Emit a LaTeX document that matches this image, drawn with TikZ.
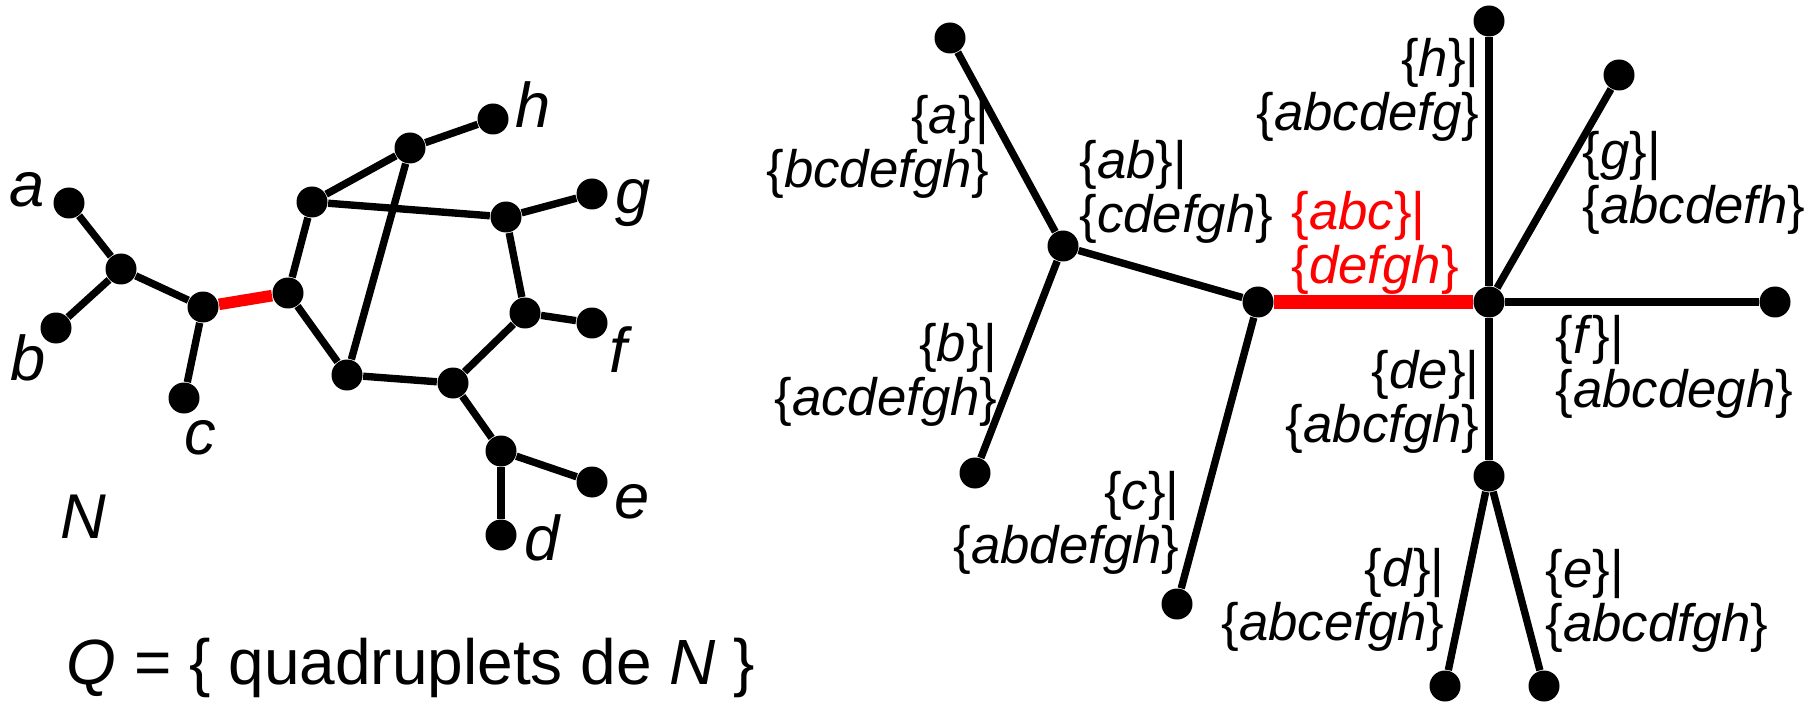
\documentclass[tikz,border=0pt]{standalone}
\usepackage{fontspec}
\setmainfont{Liberation Sans}
\newcommand{\cut}[2]{\{\textit{#1}\}|\\\{\textit{#2}\}}

\begin{document}
\begin{tikzpicture}[x=1cm,y=1cm,
  dot/.style={circle,fill,inner sep=0pt,minimum size=0.31cm},
  tree/.style={line width=2.1pt},
  leaf/.style={font=\fontsize{18}{18}\selectfont\itshape,inner sep=0pt},
  cutW/.style={font=\fontsize{15}{15.2}\selectfont,inner sep=0pt,align=right,anchor=east},
  cutE/.style={font=\fontsize{15}{15.2}\selectfont,inner sep=0pt,align=left,anchor=west}]
\useasboundingbox (0,0) rectangle (18.10,7.01);
% network N
\foreach \n/\x/\y in {la/0.69/4.98,lab/1.21/4.32,lb/0.56/3.73,lcx/2.03/3.94,lc/1.84/3.03,
  lr/2.88/4.08,lt/3.12/4.99,lhx/4.10/5.53,lh/4.93/5.82,lgx/5.06/4.84,lg/5.92/5.07,
  lfx/5.25/3.88,lf/5.92/3.78,lbl/3.47/3.26,lbm/4.53/3.18,lde/5.01/2.50,le/5.92/2.19,ld/5.01/1.66}
  \node[dot] (\n) at (\x,\y) {};
\foreach \u/\v in {la/lab,lb/lab,lab/lcx,lcx/lc,lr/lt,lr/lbl,lt/lhx,lhx/lh,lt/lgx,lhx/lbl,
  lgx/lg,lgx/lfx,lfx/lf,lfx/lbm,lbl/lbm,lbm/lde,lde/le,lde/ld}
  \draw[tree] (\u) -- (\v);
\draw[red,line width=3.3pt] (lcx) -- (lr);
\foreach \n/\x/\y in {a/0.27/5.11,b/0.28/3.43,c/2.00/2.63,h/5.33/5.96,g/6.33/4.98,
  f/6.18/3.51,e/6.32/1.99,d/5.42/1.63,N/0.83/1.84}
  \node[leaf] (t\n) at (\x,\y) {\n};
\node[font=\fontsize{18.2}{18}\selectfont,inner sep=0pt] (quad) at (4.11,0.33) {\textit{Q} = \{ quadruplets de \textit{N} \}};
% tree of splits
\foreach \n/\x/\y in {ra/9.50/6.63,rab/10.63/4.55,rb/9.75/2.28,rabc/12.58/3.99,rc/11.77/0.97,
  rx/14.89/3.99,rh/14.89/6.80,rg/16.19/6.26,rf/17.75/3.99,rde/14.89/2.25,rd/14.45/0.15,re/15.44/0.15}
  \node[dot] (\n) at (\x,\y) {};
\foreach \u/\v in {ra/rab,rb/rab,rab/rabc,rabc/rc,rx/rh,rx/rg,rx/rf,rx/rde,rde/rd,rde/re}
  \draw[tree] (\u) -- (\v);
\draw[red,line width=3.8pt] (rabc) -- (rx);
\node[cutW] (sa) at (9.90,5.54) {\cut{a}{bcdefgh}};
\node[cutE] (sab) at (10.79,5.09) {\cut{ab}{cdefgh}};
\node[cutE,red] (sabc) at (12.91,4.58) {\cut{abc}{defgh}};
\node[cutW] (sh) at (14.80,6.11) {\cut{h}{abcdefg}};
\node[cutE] (sg) at (15.82,5.18) {\cut{g}{abcdefh}};
\node[cutE] (sf) at (15.55,3.34) {\cut{f}{abcdegh}};
\node[cutW] (sde) at (14.80,2.99) {\cut{de}{abcfgh}};
\node[cutW] (sd) at (14.45,1.01) {\cut{d}{abcefgh}};
\node[cutE] (se) at (15.45,1.00) {\cut{e}{abcdfgh}};
\node[cutW] (sb) at (9.98,3.26) {\cut{b}{acdefgh}};
\node[cutW] (sc) at (11.80,1.78) {\cut{c}{abdefgh}};
\end{tikzpicture}
\end{document}
